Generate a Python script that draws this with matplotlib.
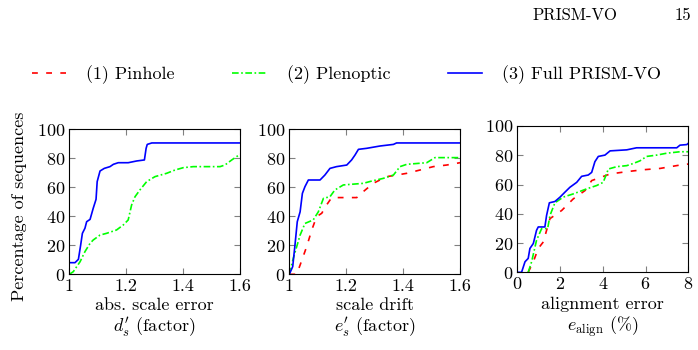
import matplotlib
matplotlib.use('Agg')
import matplotlib.pyplot as plt
from matplotlib.lines import Line2D

plt.rcParams['font.family'] = 'cmr10'
plt.rcParams['mathtext.fontset'] = 'cm'
plt.rcParams['axes.formatter.use_mathtext'] = True
plt.rcParams['font.size'] = 13

# --- data (x, percentage of sequences) ---
# panel 1: abs. scale error
p1_full_x = [1.0, 1.02, 1.032, 1.040, 1.046, 1.055, 1.061, 1.073, 1.084, 1.094, 1.098, 1.108,
             1.123, 1.143, 1.155, 1.172, 1.207, 1.237, 1.264, 1.270, 1.274, 1.29, 1.6]
p1_full_y = [8, 8, 10.3, 20.2, 28.2, 31.7, 36.2, 37.8, 45.4, 51.6, 63.8, 71.1,
             72.9, 74.1, 75.7, 76.8, 76.8, 78.0, 78.7, 86.7, 89.4, 90.4, 90.4]
p1_plen_x = [1.0, 1.014, 1.038, 1.055, 1.073, 1.084, 1.108, 1.131, 1.166, 1.19, 1.207, 1.219,
             1.231, 1.248, 1.272, 1.301, 1.342, 1.372, 1.401, 1.436, 1.53, 1.547, 1.571, 1.6]
p1_plen_y = [0, 1.8, 8.7, 15.6, 21.3, 23.6, 27, 28.2, 30.5, 34, 37.4, 47.7,
             53.4, 58, 63.8, 67.2, 69.5, 71.8, 73.4, 74.1, 74.1, 75.2, 78.7, 82.6]

# panel 2: scale drift
p2_full_x = [1.0, 1.012, 1.02, 1.028, 1.038, 1.046, 1.055, 1.067, 1.108, 1.125, 1.143, 1.166,
             1.202, 1.219, 1.231, 1.243, 1.272, 1.319, 1.366, 1.377, 1.6]
p2_full_y = [0, 5.3, 20.2, 36.2, 43, 55.7, 60.3, 64.9, 64.9, 68.3, 72.9, 74.1,
             75.2, 78.7, 82.1, 86, 86.7, 88.3, 89.4, 90.4, 90.4]
p2_plen_x = [1.0, 1.014, 1.026, 1.038, 1.055, 1.084, 1.102, 1.12, 1.143, 1.16, 1.19, 1.26,
             1.29, 1.33, 1.366, 1.389, 1.413, 1.483, 1.512, 1.6]
p2_plen_y = [0, 11, 19, 27, 35, 37.4, 43, 52.3, 53.4, 58, 61.5, 62.6,
             64.2, 66, 68.3, 74.1, 75.7, 76.8, 80.3, 80.3]
p2_pin_x = [1.0, 1.026, 1.038, 1.061, 1.079, 1.096, 1.114, 1.131, 1.149, 1.237, 1.26, 1.295,
            1.342, 1.377, 1.413, 1.46, 1.506, 1.553, 1.6]
p2_pin_y = [0, 0, 6.4, 19, 30.5, 39.7, 42, 47.7, 52.8, 52.8, 56.9, 62.6,
            67.2, 68.3, 69.5, 71.8, 74.1, 75.2, 76.8]

# panel 3: alignment error (%)
p3_full_x = [0, 0.2, 0.36, 0.51, 0.59, 0.75, 0.9, 0.98, 1.29, 1.37, 1.5, 1.76, 2.0, 2.23,
             2.46, 2.78, 3.01, 3.32, 3.48, 3.63, 3.79, 4.1, 4.34, 5.12, 5.58, 7.46, 7.61, 7.93, 8]
p3_full_y = [0, 0, 7.2, 9.5, 16.3, 19.7, 28.7, 31, 31, 38.9, 47.5, 48.4, 51.4, 54.8,
             58.1, 61.5, 65.6, 66.5, 68.3, 75.6, 79.2, 80.1, 83, 83.7, 85.1, 85.1, 86.9, 87.3, 88.2]
p3_plen_x = [0.51, 0.67, 0.9, 1.14, 1.42, 1.53, 1.76, 2.15, 2.62, 3.24, 3.71, 4.02, 4.26,
             4.65, 5.12, 5.43, 5.74, 6.05, 6.52, 6.99, 7.61, 8]
p3_plen_y = [0, 7.2, 21.9, 29.9, 29.9, 38.9, 47.5, 51.4, 53.6, 57, 59.3, 61.5, 70.6,
             72.2, 72.9, 74.4, 76.2, 79.2, 80.1, 81.4, 82.4, 82.4]
p3_pin_x = [0.51, 0.75, 0.98, 1.22, 1.37, 1.53, 2.08, 2.31, 2.62, 3.17, 3.48, 3.79, 4.34,
            5.12, 5.9, 6.68, 7.61, 8]
p3_pin_y = [0, 7.2, 16.3, 20.8, 28.7, 36.7, 42.3, 45.7, 50.2, 55.9, 62.7, 64.3, 67.2,
            68.8, 70.1, 71, 73.3, 74]

labels = ['(1) Pinhole', '(2) Plenoptic', '(3) Full PRISM-VO']
xlabels = ['abs. scale error\n$d_s^{\\prime}$ (factor)',
           'scale drift\n$e_s^{\\prime}$ (factor)',
           'alignment error\n$e_{\\mathrm{align}}$ (%)']

pin_style = dict(color='#ff0000', linestyle=(0, (3.5, 5)), linewidth=1.2)
plen_style = dict(color='#00ff00', linestyle=(0, (4, 1.5, 1, 1.5)), linewidth=1.2)
full_style = dict(color='#0000ff', linestyle='-', linewidth=1.2)

fig = plt.figure(figsize=(6.98, 3.5), dpi=100)
ax1 = fig.add_axes([69.3 / 698, 1 - 274.3 / 350, 170.7 / 698, 145.3 / 350])
ax2 = fig.add_axes([289.3 / 698, 1 - 274.3 / 350, 170.7 / 698, 145.3 / 350])
ax3 = fig.add_axes([517.3 / 698, 1 - 272.3 / 350, 171 / 698, 146.3 / 350])

ax1.plot(p1_plen_x, p1_plen_y, **plen_style)
ax1.plot(p1_full_x, p1_full_y, **full_style)
ax2.plot(p2_pin_x, p2_pin_y, **pin_style)
ax2.plot(p2_plen_x, p2_plen_y, **plen_style)
ax2.plot(p2_full_x, p2_full_y, **full_style)
ax3.plot(p3_pin_x, p3_pin_y, **pin_style)
ax3.plot(p3_plen_x, p3_plen_y, **plen_style)
ax3.plot(p3_full_x, p3_full_y, **full_style)

for ax, xl in zip([ax1, ax2, ax3], xlabels):
    ax.set_ylim(0, 100)
    ax.set_yticks([0, 20, 40, 60, 80, 100])
    ax.tick_params(direction='in', top=True, right=True, length=4, color='#808080',
                   width=0.8, labelsize=13, pad=3)
    ax.set_xlabel(xl, fontsize=13, linespacing=1.15, labelpad=3)
    for s in ax.spines.values():
        s.set_linewidth(0.8)

ax1.set_xlim(1, 1.6)
ax2.set_xlim(1, 1.6)
ax3.set_xlim(0, 8)
for ax in [ax1, ax2]:
    ax.set_xticks([1, 1.2, 1.4, 1.6])
    ax.set_xticklabels(['1', '1.2', '1.4', '1.6'])
ax3.set_xticks([0, 2, 4, 6, 8])

fig.text(19 / 698, 1 - 206 / 350, 'Percentage of sequences', rotation=90,
         fontsize=13, ha='center', va='center')

handles = [Line2D([], [], **pin_style), Line2D([], [], **plen_style), Line2D([], [], **full_style)]
fig.legend(handles, labels, ncol=3, loc='center left', bbox_to_anchor=(32 / 698, 1 - 75 / 350),
           frameon=False, fontsize=13, handlelength=1.9, handletextpad=1.1, columnspacing=3.2,
           borderpad=0, borderaxespad=0)

fig.text(532 / 698, 1 - 15 / 350, 'PRISM-VO', fontsize=12, va='center', ha='left')
fig.text(691 / 698, 1 - 15 / 350, '15', fontsize=12, va='center', ha='right')

fig.savefig('out.png', dpi=100)
